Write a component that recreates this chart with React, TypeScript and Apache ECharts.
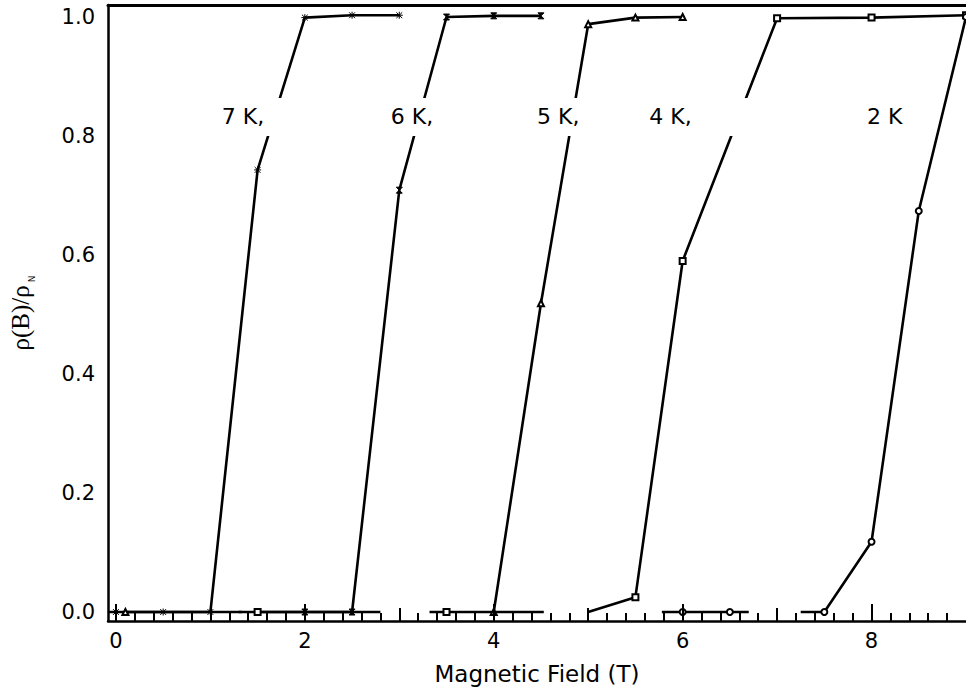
import React, { useEffect, useRef } from "react";
import * as echarts from "echarts";

// ---- axis ticks / labels ----
const xTickLabels = [0, 2, 4, 6, 8];
const xOddTicks = [1, 3, 5, 7];
const yTickLabels = [0, 0.2, 0.4, 0.6, 0.8, 1.0];
const xAxisTitle = "Magnetic Field (T)";

// ---- series data (x in T, y = rho(B)/rho_N); null breaks the line ----
const k7x = [-0.084, 0, 0.5, 1.0, 1.5, 2.0, 2.5, 3.0];
const k7y = [0, 0, 0, 0, 0.743, 0.999, 1.003, 1.003];
const k7m = [0, 1, 1, 1, 1, 1, 1, 1];

const k6x = [1.3, 2.0, 2.5, 3.0, 3.5, 4.0, 4.5];
const k6y = [0, 0, 0, 0.709, 1.0, 1.002, 1.002];
const k6m = [0, 1, 1, 1, 1, 1, 1];

const k5x = [0.1, 1.33, 1.33, 4.0, 4.5, 5.0, 5.5, 6.0];
const k5y = [0, 0, null, 0, 0.519, 0.988, 0.999, 1.0];
const k5m = [1, 0, 0, 1, 1, 1, 1, 1];

const k4x = [1.5, 2.8, 2.8, 3.32, 3.5, 4.53, 4.53, 5.0, 5.5, 6.0, 7.0, 8.0, 9.0];
const k4y = [0, 0, null, 0, 0, 0, null, 0, 0.025, 0.59, 0.998, 0.999, 1.003];
const k4m = [1, 0, 0, 0, 1, 0, 0, 0, 1, 1, 1, 1, 1];

const k2x = [5.78, 6.0, 6.5, 6.7, 6.7, 7.25, 7.5, 8.0, 8.5, 9.0];
const k2y = [0, 0, 0, 0, null, 0, 0, 0.118, 0.674, 1.0];
const k2m = [0, 1, 1, 0, 0, 0, 1, 1, 1, 1];

// ---- in-plot labels ----
const labelTexts = ["7 K,", "6 K,", "5 K,", "4 K,", "2 K"];
const labelX = [1.116, 2.905, 4.453, 5.642, 7.947];
const labelY = [0.832, 0.832, 0.832, 0.832, 0.832];

const labelPadRight = [20, 4, 4, 60, 4];

const SANS = "DejaVu Sans, Liberation Sans, Arial, sans-serif";
const SERIF = "Liberation Serif, Times New Roman, serif";

const asterisk = "path://M0,0L10,10M10,0L0,10M5,-1L5,11M-1,5L11,5";
const bowtie = "path://M0,0L10,0L0,10L10,10Z";

function lineSeries(
  name: string,
  xs: number[],
  ys: (number | null)[],
  marks: number[],
  symbol: string,
  size: number,
  extraItem: any = {}
) {
  return {
    type: "line",
    name,
    data: xs.map((x, i) => ({
      value: [x, ys[i] === null ? "-" : ys[i]],
      symbol: marks[i] ? symbol : "none",
    })),
    symbolSize: size,
    showSymbol: true,
    showAllSymbol: true,
    connectNulls: false,
    lineStyle: { color: "#000", width: 2.6 },
    itemStyle: { color: "#000", borderColor: "#000", borderWidth: 1, ...extraItem },
    z: 3,
  };
}

export default function App() {
  const ref = useRef<HTMLDivElement>(null);
  useEffect(() => {
    if (!ref.current) return;
    const chart = echarts.init(ref.current, undefined, { renderer: "svg" });
    const xmin = -0.084;
    const xmax = 9.0;
    const minorTicks: number[] = [];
    for (let i = 0; i <= 45; i++) {
      const v = Math.round(i * 2) / 10;
      if (Math.abs(v - Math.round(v)) > 1e-6) minorTicks.push(v);
    }
    const baseX = {
      type: "value",
      min: xmin,
      max: xmax,
      position: "bottom",
      splitLine: { show: false },
    };
    chart.setOption({
      animation: false,
      backgroundColor: "#fff",
      grid: { left: 103, top: 5, right: 0, height: 616, containLabel: false },
      xAxis: [
        {
          ...baseX,
          axisLine: { show: true, onZero: false, lineStyle: { color: "#000", width: 2.5 } },
          axisTick: {
            show: true,
            inside: true,
            length: 17,
            customValues: xTickLabels,
            lineStyle: { color: "#000", width: 2 },
          },
          axisLabel: {
            show: true,
            customValues: xTickLabels,
            color: "#000",
            fontSize: 21,
            fontFamily: SANS,
            margin: 9,
            formatter: (v: number) => String(v),
          },
          name: xAxisTitle,
          nameLocation: "middle",
          nameGap: 41,
          nameTextStyle: { color: "#000", fontSize: 23, fontFamily: SANS },
          z: 5,
        },
        {
          ...baseX,
          axisLine: { show: false, onZero: false },
          axisTick: {
            show: true,
            inside: true,
            length: 13,
            customValues: xOddTicks,
            lineStyle: { color: "#000", width: 2 },
          },
          axisLabel: { show: false },
        },
        {
          ...baseX,
          axisLine: { show: false, onZero: false },
          axisTick: {
            show: true,
            inside: true,
            length: 8,
            customValues: minorTicks,
            lineStyle: { color: "#000", width: 2 },
          },
          axisLabel: { show: false },
        },
        {
          ...baseX,
          position: "top",
          axisLine: { show: true, onZero: false, lineStyle: { color: "#000", width: 3 } },
          axisTick: { show: false },
          axisLabel: { show: false },
        },
      ],
      yAxis: [
        {
          type: "value",
          min: -0.0151,
          max: 1.0202,
          position: "left",
          splitLine: { show: false },
          axisLine: { show: true, onZero: false, lineStyle: { color: "#000", width: 2.5 } },
          axisTick: { show: false },
          axisLabel: {
            show: true,
            customValues: yTickLabels,
            formatter: (v: number) => v.toFixed(1),
            color: "#000",
            fontSize: 21,
            fontFamily: SANS,
            margin: 13,
          },
          name: "{a|ρ(B)/ρ}{b|N}",
          nameLocation: "middle",
          nameGap: 72,
          nameRotate: 90,
          nameTextStyle: {
            color: "#000",
            rich: {
              a: { fontFamily: SERIF, fontSize: 25, color: "#000", lineHeight: 28 },
              b: { fontFamily: SANS, fontSize: 9, color: "#000", padding: [22, 0, 0, 3] },
            },
          },
        },
      ],
      series: [
        lineSeries("7 K", k7x, k7y, k7m, asterisk, 7, { color: "none", borderWidth: 1 }),
        lineSeries("6 K", k6x, k6y, k6m, bowtie, 6),
        lineSeries("5 K", k5x, k5y, k5m, "emptyTriangle", 6, { color: "#000", borderWidth: 1 }),
        lineSeries("4 K", k4x, k4y, k4m, "emptyRect", 6, { color: "#000", borderWidth: 1 }),
        lineSeries("2 K", k2x, k2y, k2m, "emptyCircle", 6, { color: "#000", borderWidth: 1 }),
        {
          type: "scatter",
          symbol: "circle",
          symbolSize: 1,
          itemStyle: { color: "rgba(0,0,0,0)", opacity: 1 },
          z: 10,
          silent: true,
          data: labelTexts.map((t, i) => ({
            name: t,
            value: [labelX[i], labelY[i]],
            label: { padding: [8, labelPadRight[i], 8, 5] },
          })),
          label: {
            show: true,
            position: "right",
            distance: 0,
            offset: [-5, 0],
            formatter: "{b}",
            color: "#000",
            opacity: 1,
            fontSize: 22,
            fontFamily: SANS,
            backgroundColor: "#ffffff",
          },
        },
      ],
    } as any);
    return () => chart.dispose();
  }, []);
  return (
    <div
      ref={ref}
      style={{ position: "fixed", left: 0, top: 0, width: 966, height: 700, background: "#fff" }}
    />
  );
}
